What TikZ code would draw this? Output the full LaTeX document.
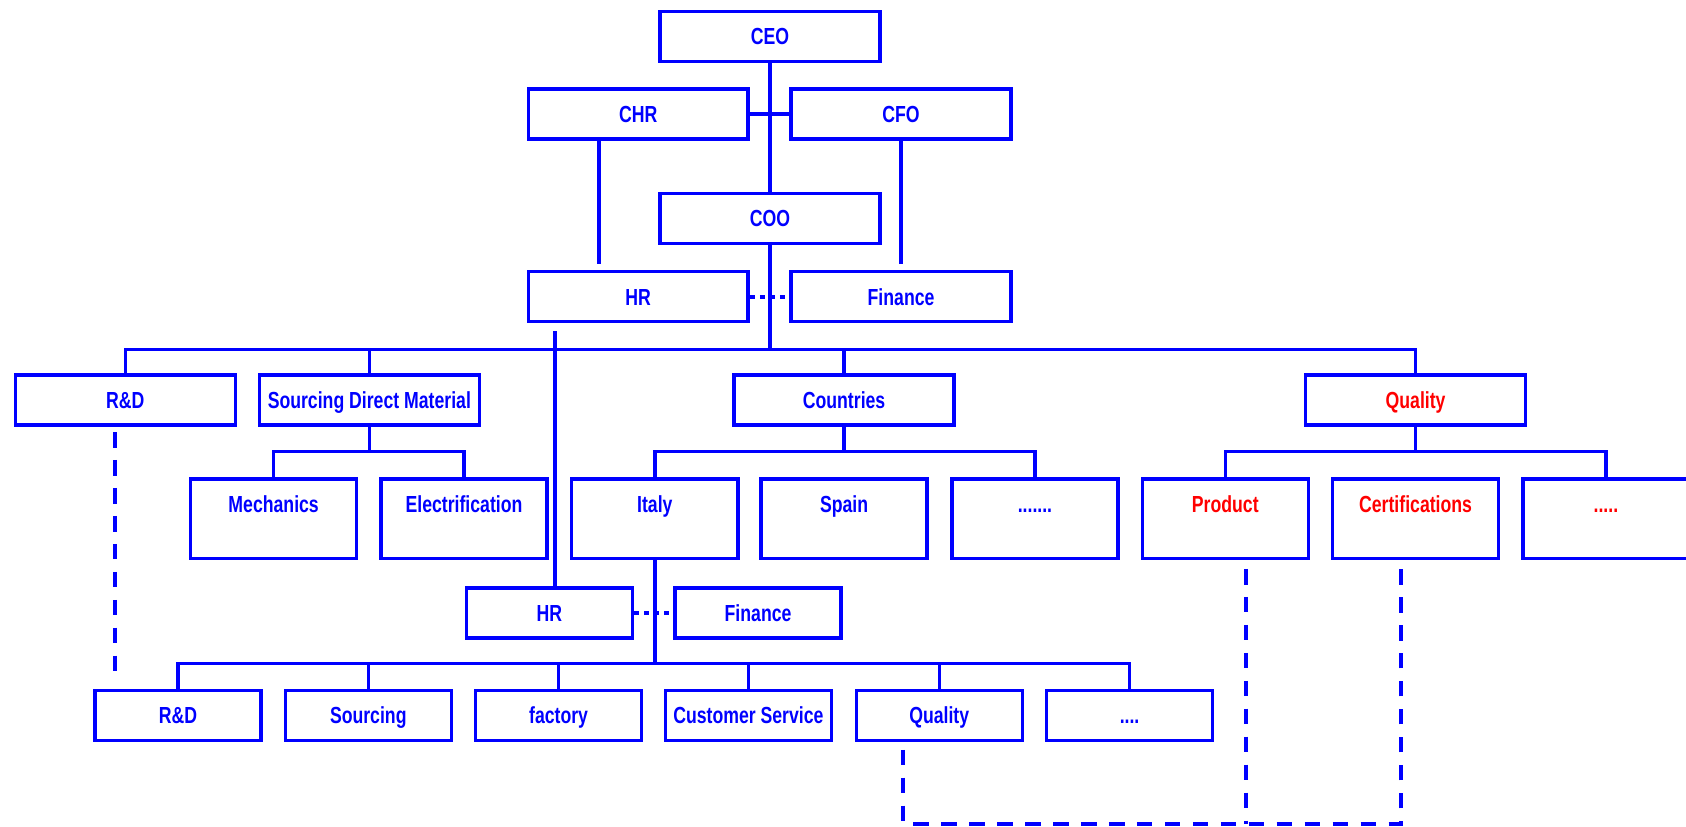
\documentclass[tikz,border=0pt]{standalone}
\usepackage{fontspec}
\setmainfont{Liberation Sans}[FakeStretch=0.76]
\usetikzlibrary{calc}
\definecolor{orgblue}{RGB}{0,0,255}
\definecolor{orgred}{RGB}{255,0,0}
\tikzset{
  box/.style={rectangle,draw=orgblue,line width=0.62mm,text=orgblue,
    font=\bfseries\fontsize{12.3}{14}\selectfont,minimum width=40.9mm,
    inner xsep=1pt,inner ysep=0pt,text height=6.2mm,text depth=3.1mm},
  sbox/.style={box,minimum width=30.9mm},
  tbox/.style={sbox,anchor=north,text depth=8.6mm},
  hot/.style={text=orgred},
  ln/.style={draw=orgblue,line width=0.62mm},
  thk/.style={draw=orgblue,line width=0.85mm},
  dsh/.style={draw=orgblue,line width=0.78mm,dash pattern=on 2.9mm off 2.3mm},
  dotln/.style={draw=orgblue,line width=0.65mm,dash pattern=on 0.93mm off 0.93mm},
}

\begin{document}
\begin{tikzpicture}[x=0.2mm,y=-0.2mm]
  \useasboundingbox (0,0) rectangle (1568,769);
  % top management
  \node[box] (ceo) at (716,34) {CEO};
  \node[box] (chr) at (593.5,106) {CHR};
  \node[box] (cfo) at (838,106) {CFO};
  \node[box] (coo) at (716,203) {COO};
  \node[box] (hr) at (593.5,276) {HR};
  \node[box] (fin) at (838,276) {Finance};
  % functions
  \node[box] (rd) at (116.5,372) {R\&D};
  \node[box] (sdm) at (343.5,372) {Sourcing Direct Material};
  \node[box] (ctry) at (785,372) {Countries};
  \node[box,hot] (qual) at (1316.5,372) {Quality};
  \node[tbox] (mech) at (254.5,444) {Mechanics};
  \node[tbox] (elec) at (431.5,444) {Electrification};
  \node[tbox] (italy) at (609,444) {Italy};
  \node[tbox] (spain) at (785,444) {Spain};
  \node[tbox] (cdots) at (962.5,444) {.......};
  \node[tbox,hot] (prod) at (1139.5,444) {Product};
  \node[tbox,hot] (cert) at (1316.5,444) {Certifications};
  \node[tbox,hot] (qdots) at (1493.5,444) {.....};
  % country level
  \node[sbox] (hr2) at (511,570) {HR};
  \node[sbox] (fin2) at (705,570) {Finance};
  \node[sbox] (brd) at (165.5,665.5) {R\&D};
  \node[sbox] (bsrc) at (342.5,665.5) {Sourcing};
  \node[sbox] (bfac) at (519.5,665.5) {factory};
  \node[sbox] (bcs) at (696,665.5) {Customer Service};
  \node[sbox] (bq) at (873.5,665.5) {Quality};
  \node[sbox] (bdots) at (1050.5,665.5) {....};

  \coordinate (b1) at (716,325);
  \coordinate (b2) at (0,420);
  \coordinate (b3) at (608,617);
  \coordinate (hrtop) at (516,308);
  \coordinate (lp) at (0,766);
  \coordinate (pd) at ($(prod.south)+(19.5,8)$);
  \coordinate (cd) at ($(cert.south)+(-13.5,8)$);
  \coordinate (qd) at ($(bq.south)+(-33.5,7)$);

  \draw[ln] (ceo) -- (coo);
  \draw[ln] (chr) -- (cfo);
  \draw[thk] ($(chr.south)+(-36.5,0)$) -- ++(0,115);
  \draw[thk] (cfo.south) -- ++(0,115);
  \draw[dotln] (hr) -- (fin);
  \draw[ln] (coo) -- (b1);
  \draw[ln] (rd.north) -- (rd.north |- b1) -- (qual.north |- b1) -- (qual.north);
  \foreach \n in {sdm,ctry}
    \draw[ln] (\n.north) -- (\n.north |- b1);
  \foreach \p/\l/\r in {sdm/mech/elec,ctry/italy/cdots,qual/prod/qdots} {
    \draw[ln] (\l.north) -- (\l.north |- b2) -- (\r.north |- b2) -- (\r.north);
    \draw[ln] (\p) -- (\p.south |- b2);
  }
  \draw[thk] (hrtop) -- (hrtop |- hr2.north);
  \draw[ln] (italy.south) -- (italy.south |- b3);
  \draw[dotln] (hr2) -- (fin2);
  \draw[ln] (brd.north) -- (brd.north |- b3) -- (bdots.north |- b3) -- (bdots.north);
  \foreach \n in {bsrc,bfac,bcs,bq}
    \draw[ln] (\n.north) -- (\n.north |- b3);
  % dashed links
  \draw[dsh] ($(rd.south)+(-9.5,5)$) -- ++(0,222);
  \draw[dsh] (qd) |- (lp -| cd) -- (cd);
  \draw[dsh] (pd) -- (pd |- lp);
\end{tikzpicture}
\end{document}
